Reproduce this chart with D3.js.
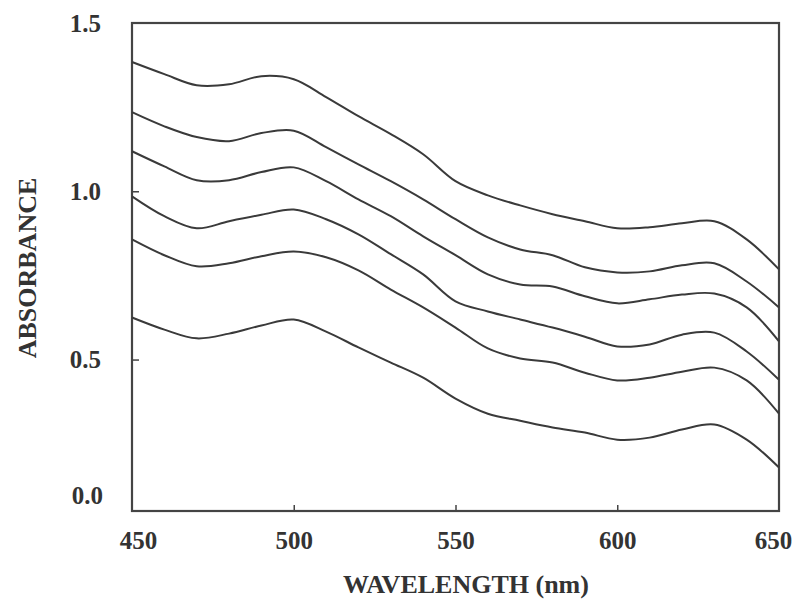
<!DOCTYPE html>
<html>
<head>
<meta charset="utf-8">
<script src="https://cdn.jsdelivr.net/npm/d3@7"></script>
<style>
  body { margin: 0; background: #fff; }
  text { font-family: "Liberation Serif", "Times New Roman", serif; font-weight: bold; fill: #333; }
</style>
</head>
<body>
<div id="chart"></div>
<script>
// wavelengths (nm) sampled every 10 nm
const wavelengths = [450,460,470,480,490,500,510,520,530,540,550,560,570,580,590,600,610,620,630,640,650];

// six absorbance spectra, top to bottom
const spectrum1 = [1.384,1.348,1.315,1.318,1.342,1.333,1.280,1.223,1.170,1.110,1.030,0.988,0.958,0.932,0.911,0.890,0.893,0.905,0.911,0.857,0.768];
const spectrum2 = [1.235,1.193,1.161,1.149,1.173,1.180,1.131,1.080,1.030,0.976,0.917,0.863,0.827,0.810,0.774,0.759,0.762,0.780,0.786,0.732,0.655];
const spectrum3 = [1.119,1.074,1.033,1.033,1.057,1.071,1.030,0.976,0.926,0.866,0.810,0.753,0.723,0.717,0.688,0.667,0.679,0.693,0.696,0.655,0.554];
const spectrum4 = [0.985,0.926,0.890,0.911,0.930,0.946,0.917,0.872,0.813,0.753,0.673,0.643,0.619,0.595,0.568,0.539,0.545,0.574,0.580,0.524,0.440];
const spectrum5 = [0.857,0.810,0.777,0.786,0.807,0.821,0.804,0.765,0.708,0.655,0.595,0.533,0.503,0.491,0.461,0.438,0.446,0.464,0.476,0.438,0.339];
const spectrum6 = [0.625,0.589,0.563,0.577,0.601,0.619,0.583,0.536,0.491,0.446,0.384,0.339,0.318,0.298,0.283,0.262,0.268,0.292,0.307,0.262,0.179];

const xTicks = [450,500,550,600,650];
const yTicks = [0.5,1.0,1.5];
const yMin = 0.05; // bottom edge of the frame

const allSpectra = [spectrum1,spectrum2,spectrum3,spectrum4,spectrum5,spectrum6];

const width = 800, height = 604;
const margin = {top: 23, right: 21, bottom: 93, left: 132};
const innerW = width - margin.left - margin.right;
const innerH = height - margin.top - margin.bottom;

const svg = d3.select("#chart").append("svg")
    .attr("width", width)
    .attr("height", height);

const g = svg.append("g")
    .attr("transform", "translate(" + margin.left + "," + margin.top + ")");

const xScale = d3.scaleLinear().domain([450,650]).range([0,innerW]);
const yScale = d3.scaleLinear().domain([yMin,1.5]).range([innerH,0]);

// x axis: small inward ticks, labels below
const xAxis = g.append("g")
    .attr("class","xAxisG")
    .attr("transform","translate(0,"+innerH+")")
    .call(d3.axisBottom(xScale).tickValues(xTicks).tickSize(-6).tickPadding(20).tickFormat(d3.format("d")));
xAxis.select(".domain").remove();
xAxis.selectAll("text").attr("font-size", 25).attr("dy", "0.71em")
    .attr("dx", d => d === 450 ? 6 : (d === 650 ? -6 : 0));
xAxis.selectAll("line").attr("stroke","#444").attr("stroke-width",1.5)
    .filter(d => d === 450 || d === 650).remove();

// y axis
const yAxis = g.append("g")
    .attr("class","yAxisG")
    .call(d3.axisLeft(yScale).tickValues(yTicks).tickSize(-7).tickPadding(31).tickFormat(d3.format(".1f")));
yAxis.select(".domain").remove();
yAxis.selectAll("text").attr("font-size", 25);
yAxis.selectAll("line").attr("stroke","#444").attr("stroke-width",1.5)
    .filter(d => d === 1.5).remove();

// the 0.0 label sits a little above the frame corner in the original
g.append("text")
    .attr("x", -29)
    .attr("y", yScale(yMin) - 15)
    .attr("dy", "0.32em")
    .attr("text-anchor", "end")
    .attr("font-size", 25)
    .text("0.0");

// frame
g.append("rect")
    .attr("x",0).attr("y",0)
    .attr("width",innerW).attr("height",innerH)
    .attr("fill","none")
    .attr("stroke","#444")
    .attr("stroke-width",2.2);

// spectra
const line = d3.line()
    .x((d,i) => xScale(wavelengths[i]))
    .y(d => yScale(d))
    .curve(d3.curveCatmullRom.alpha(0.5));

g.selectAll(".spectrum")
    .data(allSpectra)
    .join("path")
    .attr("class","spectrum")
    .attr("d", line)
    .attr("fill","none")
    .attr("stroke","#3a3a3a")
    .attr("stroke-width",2);

// axis titles
svg.append("text")
    .attr("x", 466)
    .attr("y", 593)
    .attr("text-anchor","middle")
    .attr("font-size", 26)
    .text("WAVELENGTH (nm)");

svg.append("text")
    .attr("transform","translate(36,268) rotate(-90)")
    .attr("text-anchor","middle")
    .attr("font-size", 26)
    .text("ABSORBANCE");
</script>
</body>
</html>
